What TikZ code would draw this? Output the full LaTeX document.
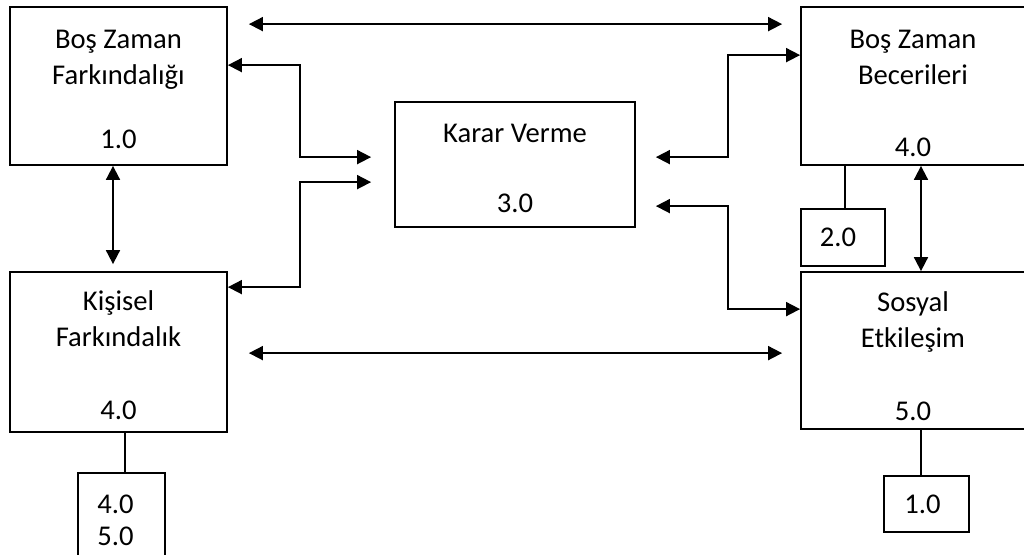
\documentclass[tikz,border=0pt]{standalone}
\usepackage{fontspec}
\setmainfont{Carlito}
\usetikzlibrary{arrows.meta}
\usetikzlibrary{calc}

% ust bosluk icin gorunmez dikme
\newcommand{\dikme}[1]{\rule{0pt}{#1}}

\tikzset{
  kutu/.style={draw, line width=0.9pt, align=center, inner sep=0pt,
    font=\fontsize{14.3}{18}\selectfont},
  notkutu/.style={kutu, minimum height=28.5pt, minimum width=42.5pt},
  ok/.style={line width=0.9pt, <->, >={Triangle[length=7pt,width=7pt]}},
  cizgi/.style={line width=0.9pt}
}

\begin{document}
\begin{tikzpicture}[x=0.5pt,y=-0.5pt]
  \useasboundingbox (0,0) rectangle (1024,554);
  % ana kutular
  \node[kutu, minimum width=108.5pt, minimum height=79pt] (bzf) at (118.5,86)
    {\dikme{12.5pt}Boş Zaman\\Farkındalığı\\[14pt]1.0};
  \node[kutu, minimum width=108.5pt, minimum height=80pt] (kf) at (118.5,352)
    {\dikme{13.5pt}Kişisel\\Farkındalık\\[18.5pt]4.0};
  \node[kutu, minimum width=120pt, minimum height=62.5pt] (kv) at (515,164.5)
    {\dikme{13pt}Karar Verme\\[17pt]3.0};
  \node[kutu, minimum width=112pt, minimum height=79pt] (bzb) at (913,86)
    {\dikme{16.5pt}Boş Zaman\\Becerileri\\[18pt]4.0};
  \node[kutu, minimum width=112pt, minimum height=78.5pt] (se) at (913,350.5)
    {\dikme{15.5pt}Sosyal\\Etkileşim\\[18.5pt]5.0};
  % not kutulari
  \node[notkutu, minimum width=43.5pt, minimum height=41.5pt] (kfnot) at (121.5,514.5)
    {\dikme{15pt}4.0\hspace*{6pt}\\[-2pt]5.0\hspace*{6pt}};
  \node[notkutu, minimum width=42pt] (bzbnot) at (843,237.5) {2.0\hspace*{5pt}};
  \node[notkutu, minimum height=28pt] (senot) at (926.5,504) {1.0\hspace*{4pt}};
  \foreach \ust/\alt/\kay in {kf/kfnot/1.75pt,bzb/bzbnot/1pt,se/senot/-2.75pt} {
    \draw[cizgi] ([xshift=\kay]\alt.north) -- ([xshift=\kay]\alt.north |- \ust.south);
  }
  % kolonlar ve ok uclari
  \coordinate (solkol) at (300,0);
  \coordinate (sagkol) at (728,0);
  \coordinate (kvsol1) at ([yshift=-28pt]kv.north west);
  \coordinate (kvsol2) at ([yshift=-40.5pt]kv.north west);
  \coordinate (kvsag1) at ([yshift=-28pt]kv.north east);
  \coordinate (kvsag2) at ([yshift=-52.5pt]kv.north east);
  \coordinate (bzfsag) at ([yshift=-29.5pt]bzf.north east);
  \coordinate (kfsag) at ([yshift=-8pt]kf.north east);
  \coordinate (bzbsol) at ([yshift=-24.5pt]bzb.north west);
  \coordinate (sesol) at ([yshift=-19pt]se.north west);
  % oklar
  \draw[ok, shorten >=3.5pt] ([xshift=-2.75pt]bzf.south) -- ([xshift=-2.75pt]bzf.south |- kf.north);
  \draw[ok] ([xshift=4pt]bzb.south) -- ([xshift=4pt]bzb.south |- se.north);
  \draw[ok, shorten <=10.5pt, shorten >=9pt] ([yshift=-9pt]bzf.north east) -- ([yshift=-9pt]bzb.north west);
  \draw[ok, shorten <=10.5pt, shorten >=9pt] ([yshift=-41pt]kf.north east) -- ([yshift=-41pt]se.north west);
  \draw[ok, shorten >=11.5pt] (bzfsag) -| (solkol |- kvsol1) -- (kvsol1);
  \draw[ok, shorten >=11.5pt] (kfsag) -| (solkol |- kvsol2) -- (kvsol2);
  \draw[ok, shorten <=10pt] (kvsag1) -| (sagkol |- bzbsol) -- (bzbsol);
  \draw[ok, shorten <=10pt] (kvsag2) -| (sagkol |- sesol) -- (sesol);
\end{tikzpicture}
\end{document}
